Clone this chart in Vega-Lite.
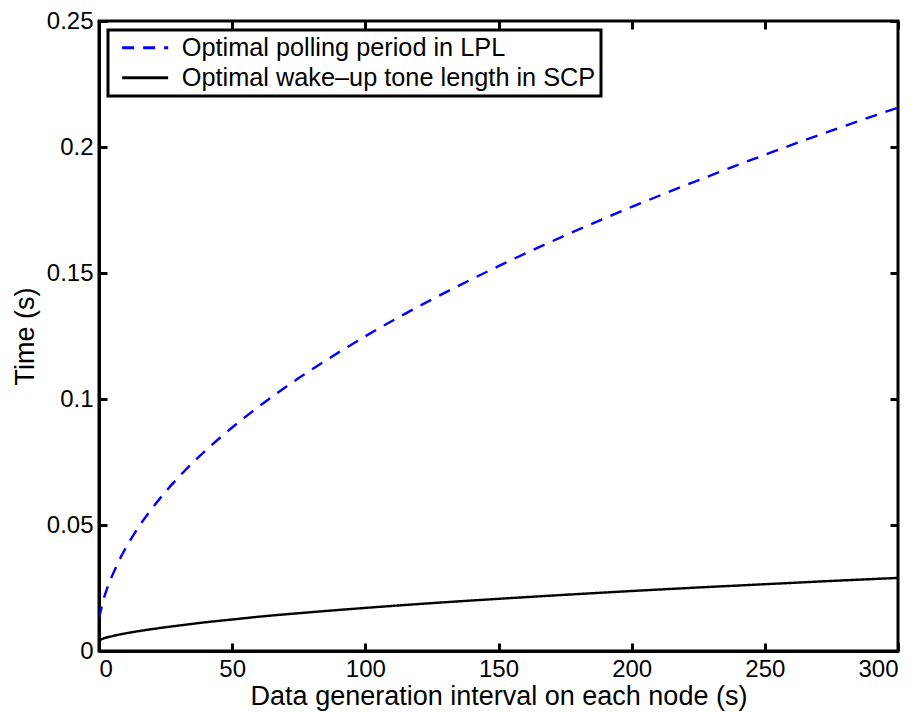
{
  "$schema": "https://vega.github.io/schema/vega-lite/v6.json",
  "width": 799,
  "height": 630,
  "autosize": {"type": "none"},
  "padding": {"left": 99, "top": 21, "right": 21, "bottom": 63},
  "background": "white",
  "config": {
    "font": "Liberation Sans",
    "view": {"stroke": "black", "strokeWidth": 3},
    "axis": {
      "grid": false,
      "domainColor": "black",
      "domainWidth": 3,
      "tickColor": "black",
      "tickWidth": 3,
      "tickSize": -8,
      "labelFont": "Liberation Sans",
      "labelFontSize": 24,
      "labelColor": "black",
      "titleFont": "Liberation Sans",
      "titleFontSize": 27,
      "titleFontWeight": "normal",
      "titleColor": "black"
    },
    "legend": {
      "orient": "top-left",
      "offset": 9,
      "title": null,
      "fillColor": "white",
      "strokeColor": "black",
      "strokeWidth": 3,
      "padding": 5,
      "rowPadding": 4,
      "symbolType": "M-2.3,0H2.3",
      "symbolSize": 400,
      "symbolStrokeWidth": 3,
      "symbolOffset": 19.5,
      "labelOffset": 24,
      "labelFont": "Liberation Sans",
      "labelFontSize": 25.3,
      "labelColor": "black",
      "labelLimit": 600
    }
  },
  "data": {
    "values": [
      {"interval": 0, "time": 0.013, "series": "Optimal polling period in LPL"},
      {"interval": 0.5, "time": 0.0152, "series": "Optimal polling period in LPL"},
      {"interval": 1, "time": 0.0175, "series": "Optimal polling period in LPL"},
      {"interval": 2, "time": 0.0215, "series": "Optimal polling period in LPL"},
      {"interval": 3, "time": 0.0247, "series": "Optimal polling period in LPL"},
      {"interval": 5, "time": 0.0300, "series": "Optimal polling period in LPL"},
      {"interval": 7.5, "time": 0.0358, "series": "Optimal polling period in LPL"},
      {"interval": 10, "time": 0.0408, "series": "Optimal polling period in LPL"},
      {"interval": 15, "time": 0.0494, "series": "Optimal polling period in LPL"},
      {"interval": 20, "time": 0.0567, "series": "Optimal polling period in LPL"},
      {"interval": 25, "time": 0.0632, "series": "Optimal polling period in LPL"},
      {"interval": 30, "time": 0.0691, "series": "Optimal polling period in LPL"},
      {"interval": 40, "time": 0.0795, "series": "Optimal polling period in LPL"},
      {"interval": 50, "time": 0.0887, "series": "Optimal polling period in LPL"},
      {"interval": 60, "time": 0.0970, "series": "Optimal polling period in LPL"},
      {"interval": 75, "time": 0.1083, "series": "Optimal polling period in LPL"},
      {"interval": 90, "time": 0.1185, "series": "Optimal polling period in LPL"},
      {"interval": 100, "time": 0.1249, "series": "Optimal polling period in LPL"},
      {"interval": 125, "time": 0.1395, "series": "Optimal polling period in LPL"},
      {"interval": 150, "time": 0.1527, "series": "Optimal polling period in LPL"},
      {"interval": 175, "time": 0.1649, "series": "Optimal polling period in LPL"},
      {"interval": 200, "time": 0.1762, "series": "Optimal polling period in LPL"},
      {"interval": 225, "time": 0.1868, "series": "Optimal polling period in LPL"},
      {"interval": 250, "time": 0.1969, "series": "Optimal polling period in LPL"},
      {"interval": 275, "time": 0.2065, "series": "Optimal polling period in LPL"},
      {"interval": 300, "time": 0.2156, "series": "Optimal polling period in LPL"},
      {"interval": 0, "time": 0.0042, "series": "Optimal wake\u2013up tone length in SCP"},
      {"interval": 1, "time": 0.0047, "series": "Optimal wake\u2013up tone length in SCP"},
      {"interval": 2, "time": 0.0051, "series": "Optimal wake\u2013up tone length in SCP"},
      {"interval": 5, "time": 0.0059, "series": "Optimal wake\u2013up tone length in SCP"},
      {"interval": 10, "time": 0.0070, "series": "Optimal wake\u2013up tone length in SCP"},
      {"interval": 15, "time": 0.0079, "series": "Optimal wake\u2013up tone length in SCP"},
      {"interval": 20, "time": 0.0087, "series": "Optimal wake\u2013up tone length in SCP"},
      {"interval": 30, "time": 0.0101, "series": "Optimal wake\u2013up tone length in SCP"},
      {"interval": 40, "time": 0.0114, "series": "Optimal wake\u2013up tone length in SCP"},
      {"interval": 50, "time": 0.0125, "series": "Optimal wake\u2013up tone length in SCP"},
      {"interval": 60, "time": 0.0136, "series": "Optimal wake\u2013up tone length in SCP"},
      {"interval": 75, "time": 0.0150, "series": "Optimal wake\u2013up tone length in SCP"},
      {"interval": 100, "time": 0.0171, "series": "Optimal wake\u2013up tone length in SCP"},
      {"interval": 125, "time": 0.0190, "series": "Optimal wake\u2013up tone length in SCP"},
      {"interval": 150, "time": 0.0207, "series": "Optimal wake\u2013up tone length in SCP"},
      {"interval": 175, "time": 0.0223, "series": "Optimal wake\u2013up tone length in SCP"},
      {"interval": 200, "time": 0.0238, "series": "Optimal wake\u2013up tone length in SCP"},
      {"interval": 225, "time": 0.0252, "series": "Optimal wake\u2013up tone length in SCP"},
      {"interval": 250, "time": 0.0265, "series": "Optimal wake\u2013up tone length in SCP"},
      {"interval": 275, "time": 0.0278, "series": "Optimal wake\u2013up tone length in SCP"},
      {"interval": 300, "time": 0.0290, "series": "Optimal wake\u2013up tone length in SCP"}
    ]
  },
  "layer": [
    {
      "mark": {"type": "line", "strokeWidth": 2.4, "interpolate": "monotone", "clip": true},
      "encoding": {
        "x": {
          "field": "interval",
          "type": "quantitative",
          "scale": {"domain": [0, 300], "nice": false, "zero": false},
          "axis": {
            "orient": "bottom",
            "values": [0, 50, 100, 150, 200, 250, 300],
            "title": "Data generation interval on each node (s)",
            "labelPadding": 14,
            "titlePadding": 2
          }
        },
        "y": {
          "field": "time",
          "type": "quantitative",
          "scale": {"domain": [0, 0.25], "nice": false, "zero": false},
          "axis": {
            "orient": "left",
            "values": [0, 0.05, 0.1, 0.15, 0.2, 0.25],
            "format": "~g",
            "title": "Time (s)",
            "labelPadding": 14,
            "titlePadding": 7
          }
        },
        "color": {
          "field": "series",
          "type": "nominal",
          "scale": {
            "domain": ["Optimal polling period in LPL", "Optimal wake\u2013up tone length in SCP"],
            "range": ["#0000ff", "#000000"]
          }
        },
        "strokeDash": {
          "field": "series",
          "type": "nominal",
          "scale": {
            "domain": ["Optimal polling period in LPL", "Optimal wake\u2013up tone length in SCP"],
            "range": [[12, 9], [1, 0]]
          }
        }
      }
    },
    {
      "mark": {"type": "line", "opacity": 0},
      "encoding": {
        "x": {
          "field": "interval",
          "type": "quantitative",
          "axis": {
            "orient": "top",
            "values": [0, 50, 100, 150, 200, 250, 300],
            "labels": false,
            "domain": false,
            "title": null
          }
        },
        "y": {
          "field": "time",
          "type": "quantitative",
          "axis": {
            "orient": "right",
            "values": [0, 0.05, 0.1, 0.15, 0.2, 0.25],
            "labels": false,
            "domain": false,
            "title": null
          }
        },
        "detail": {"field": "series", "type": "nominal"}
      }
    }
  ],
  "resolve": {"axis": {"x": "independent", "y": "independent"}}
}
